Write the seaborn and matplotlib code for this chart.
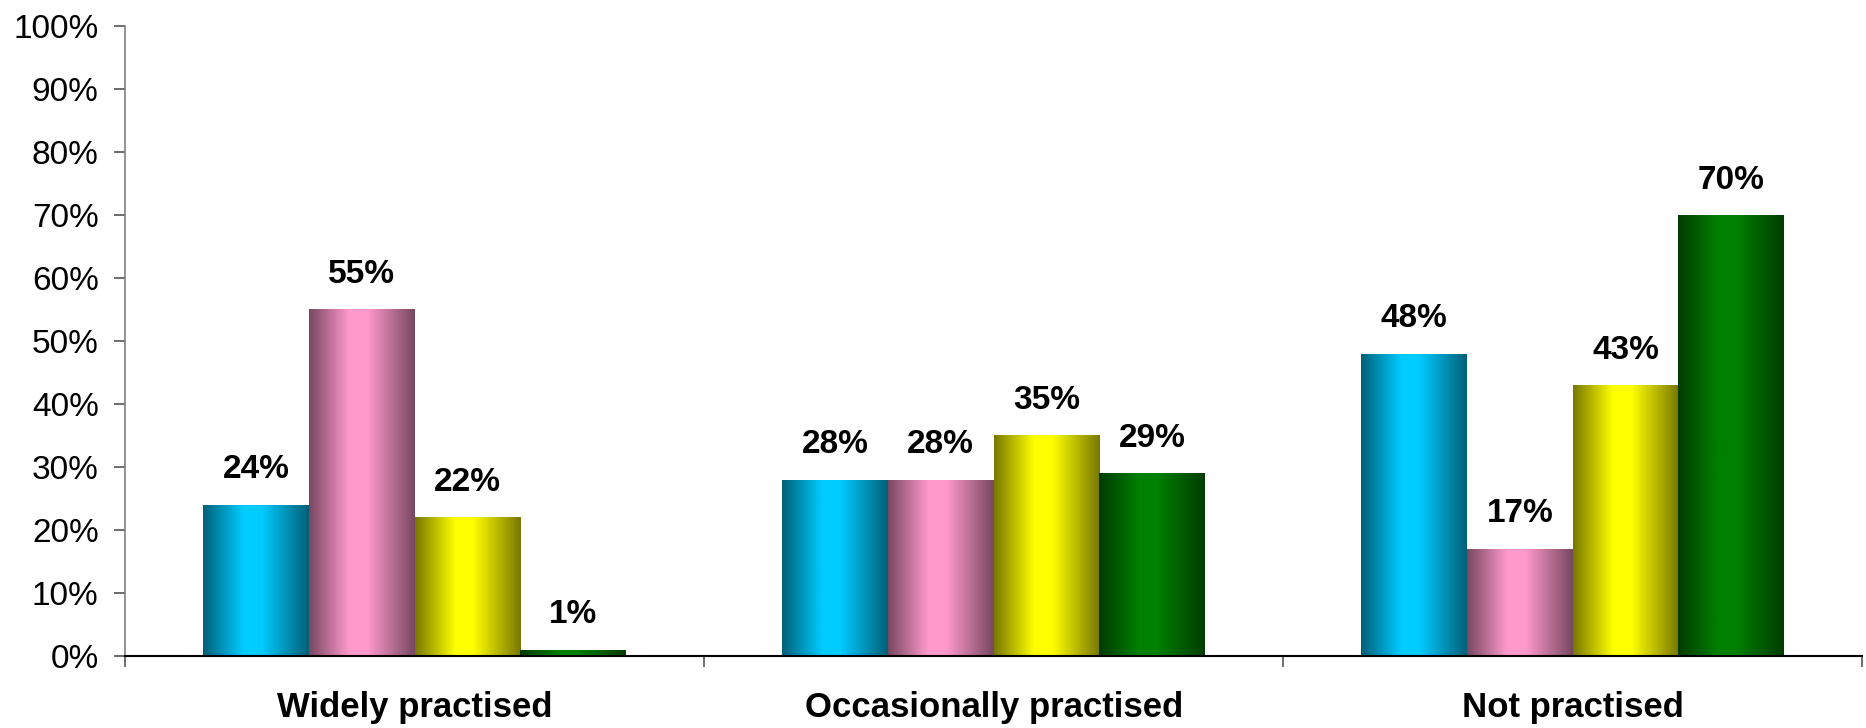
import numpy as np
import pandas as pd
import matplotlib
matplotlib.use("Agg")
import matplotlib.pyplot as plt
import seaborn as sns

sns.set_theme(style="white")
plt.rcParams['font.family'] = ['Liberation Sans', 'DejaVu Sans']
plt.rcParams['text.color'] = 'black'
plt.rcParams['xtick.labelcolor'] = 'black'
plt.rcParams['ytick.labelcolor'] = 'black'

# Data
categories = ['Widely practised', 'Occasionally practised', 'Not practised']
series = ['Series 1', 'Series 2', 'Series 3', 'Series 4']
series1 = [24, 28, 48]
series2 = [55, 28, 17]
series3 = [22, 35, 43]
series4 = [1, 29, 70]
base_colors = ['#00CCFF', '#FF99CC', '#FFFF00', '#008000']

df = pd.DataFrame({
    'category': categories * 4,
    'series': np.repeat(series, 3),
    'value': series1 + series2 + series3 + series4,
})

fig = plt.figure(figsize=(18.66, 7.28), dpi=100)
ax = fig.add_axes([0.067, 0.0989, 0.931, 0.8654])

sns.barplot(data=df, x='category', y='value', hue='series', order=categories,
            hue_order=series, palette=base_colors, width=0.73, legend=False,
            saturation=1, ax=ax, errorbar=None)

ax.set_xlim(-0.5, 2.5)
ax.set_ylim(0, 100)

# horizontal shading on each bar (dark edges, bright middle)
pos = np.linspace(0, 1, 200)
shade = np.interp(pos, [0, 0.38, 0.55, 1], [0.47, 1.0, 1.0, 0.47])
for cont, col in zip(ax.containers, base_colors):
    rgb = np.array(matplotlib.colors.to_rgb(col))
    grad = (shade[:, None] * rgb[None, :])[None, :, :]
    for p in cont.patches:
        x0, w, h = p.get_x(), p.get_width(), p.get_height()
        p.set_facecolor('none')
        p.set_edgecolor('none')
        im = ax.imshow(grad, extent=[x0, x0 + w, 0, h], aspect='auto',
                       interpolation='bilinear', zorder=2)
        im.set_clip_path(p)
    ax.bar_label(cont, labels=[f"{v:.0f}%" for v in cont.datavalues],
                 padding=14, fontsize=24, fontweight='bold', color='black')

ax.set_xlim(-0.5, 2.5)
ax.set_ylim(0, 100)

# axes styling
ax.set_yticks(np.arange(0, 101, 10))
ax.set_yticklabels([f"{t}%" for t in range(0, 101, 10)], fontsize=24)
ax.tick_params(axis='y', direction='out', length=8, width=1.2, color='#555555',
               pad=11, left=True)
ax.set_xticks([-0.5, 0.5, 1.5, 2.5])
ax.set_xticklabels([])
ax.tick_params(axis='x', which='major', direction='out', length=8, width=1.2,
               color='#555555', bottom=True)
ax.set_xticks([0, 1, 2], minor=True)
ax.set_xticklabels(categories, minor=True, fontsize=25, fontweight='bold')
ax.tick_params(axis='x', which='minor', length=0, pad=25)

sns.despine(ax=ax, top=True, right=True)
ax.spines['left'].set_color('#808080')
ax.spines['left'].set_linewidth(1.2)
ax.spines['bottom'].set_color('black')
ax.spines['bottom'].set_linewidth(1.5)
ax.set_xlabel('')
ax.set_ylabel('')
ax.grid(False)

fig.savefig('out.png', dpi=100)
